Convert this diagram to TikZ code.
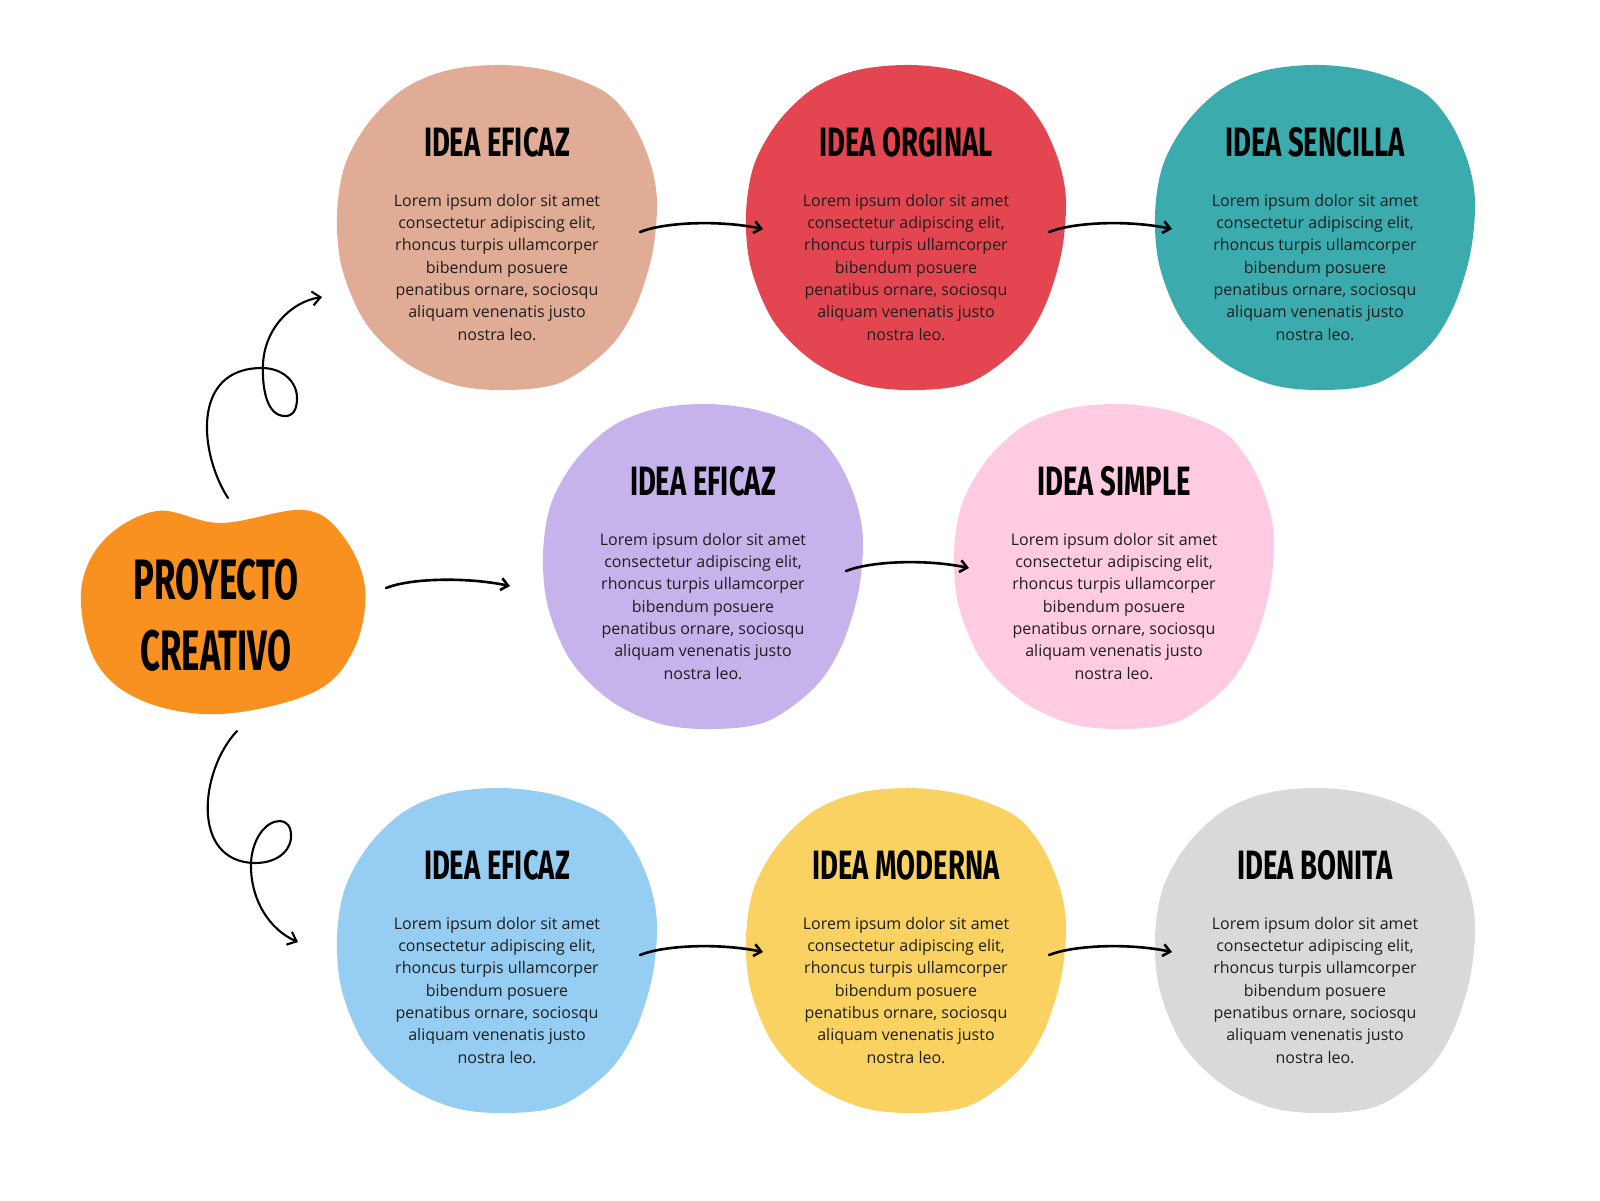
\documentclass[tikz,border=0pt]{standalone}
\usepackage{fontspec}
\setmainfont{Open Sans}
\newfontfamily\titlefont[FakeStretch=0.67]{Fira Sans}
\newfontfamily\maintitlefont[FakeStretch=0.61]{Fira Sans}
\usetikzlibrary{arrows.meta,calc}
\definecolor{csalmon}{HTML}{E0AC96}
\definecolor{cred}{HTML}{E34650}
\definecolor{cteal}{HTML}{3BABAE}
\definecolor{cpurple}{HTML}{C6B3EC}
\definecolor{cpink}{HTML}{FECBE3}
\definecolor{cblue}{HTML}{96CDF2}
\definecolor{cyellow}{HTML}{F9D262}
\definecolor{cgray}{HTML}{D9D9D9}
\definecolor{corange}{HTML}{F8911F}
\definecolor{bodytext}{HTML}{1E1E1E}
\tikzset{
  blobtitle/.style={font=\titlefont\bfseries\fontsize{41}{41}\selectfont, anchor=base, inner sep=0pt, text=black},
  maintitle/.style={font=\maintitlefont\bfseries\fontsize{57}{71}\selectfont, align=center, inner sep=0pt, text=black},
  blobbody/.style={font=\fontsize{16}{22.3}\selectfont, align=center, anchor=north, inner sep=0pt, text=bodytext},
  conn/.style={line width=2.6pt, line cap=round, -{Straight Barb[length=7pt,width=12pt]}},
  swirl/.style={line width=2.1pt, line cap=round, -{Straight Barb[length=8pt,width=14pt]}},
}
\newcommand{\blobshape}[2]{%
  \fill[#2, shift={(#1)}] plot[smooth cycle, tension=0.55] coordinates {
    (5,-162) (58,-155) (108,-135) (135,-105) (153,-65) (160,-25) (155,28)
    (138,81) (112,121) (65,155) (12,163) (-42,158) (-92,135) (-132,95)
    (-155,41) (-160,-12) (-152,-62) (-128,-105) (-92,-139) (-48,-157)};}
\newcommand{\lorem}{Lorem ipsum dolor sit amet\\consectetur adipiscing elit,\\rhoncus turpis ullamcorper\\bibendum posuere\\penatibus ornare, sociosqu\\aliquam venenatis justo\\nostra leo.}
\begin{document}
\begin{tikzpicture}[x=1pt,y=-1pt]
\useasboundingbox (0,0) rectangle (1600,1200);
\fill[white] (0,0) rectangle (1600,1200);
% centres
\coordinate (c1) at (497,227);
\coordinate (c2) at (906,227);
\coordinate (c3) at (1315,227);
\coordinate (c4) at (703,566);
\coordinate (c5) at (1114,566);
\coordinate (c6) at (497,950);
\coordinate (c7) at (906,950);
\coordinate (c8) at (1315,950);
% blobs
\blobshape{c1}{csalmon}
\blobshape{c2}{cred}
\blobshape{c3}{cteal}
\blobshape{c4}{cpurple}
\blobshape{c5}{cpink}
\blobshape{c6}{cblue}
\blobshape{c7}{cyellow}
\blobshape{c8}{cgray}
\fill[corange] plot[smooth cycle, tension=0.6] coordinates {
  (81,592) (104,540) (157,511) (221,523) (304,510) (343,536) (365,588)
  (354,649) (314,692) (221,714) (143,701) (96,662)};
% main node
\node[maintitle] (main) at (216,615) {PROYECTO\\CREATIVO};
% titles
\node[blobtitle] (t1) at ($(c1)+(0,-71)$) {IDEA EFICAZ};
\node[blobtitle] (t2) at ($(c2)+(0,-71)$) {IDEA ORGINAL};
\node[blobtitle] (t3) at ($(c3)+(0,-71)$) {IDEA SENCILLA};
\node[blobtitle] (t4) at ($(c4)+(0,-71)$) {IDEA EFICAZ};
\node[blobtitle] (t5) at ($(c5)+(0,-71)$) {IDEA SIMPLE};
\node[blobtitle] (t6) at ($(c6)+(0,-71)$) {IDEA EFICAZ};
\node[blobtitle] (t7) at ($(c7)+(0,-71)$) {IDEA MODERNA};
\node[blobtitle] (t8) at ($(c8)+(0,-71)$) {IDEA BONITA};
% bodies
\node[blobbody] (d1) at ($(c1)+(0,-33)$) {\lorem};
\node[blobbody] (d2) at ($(c2)+(0,-33)$) {\lorem};
\node[blobbody] (d3) at ($(c3)+(0,-33)$) {\lorem};
\node[blobbody] (d4) at ($(c4)+(0,-33)$) {\lorem};
\node[blobbody] (d5) at ($(c5)+(0,-33)$) {\lorem};
\node[blobbody] (d6) at ($(c6)+(0,-33)$) {\lorem};
\node[blobbody] (d7) at ($(c7)+(0,-33)$) {\lorem};
\node[blobbody] (d8) at ($(c8)+(0,-33)$) {\lorem};
% connector end points
\foreach \i in {1,2,4,6,7}{
  \coordinate (s\i) at ($(c\i)+(143,5)$);
  \coordinate (e\i) at ($(c\i)+(266,2)$);
  \draw[conn] (s\i) .. controls ($(s\i)+(25,-10)$) and ($(e\i)+(-43,-9)$) .. (e\i);
}
\coordinate (s0) at (386,588);
\coordinate (e0) at (510,586);
\draw[conn] (s0) .. controls ($(s0)+(25,-10)$) and ($(e0)+(-43,-9)$) .. (e0);
% upper swirl
\coordinate (us) at (228,498);
\coordinate (ue) at (322,297);
\draw[swirl] (us) .. controls (200,455) and (190,368) .. (262,368)
  .. controls (283,368) and (297,382) .. (297,398)
  .. controls (297,410) and (293,416) .. (285,416)
  .. controls (268,416) and (262,392) .. (263,365)
  .. controls (264,330) and (290,302) .. (ue);
% lower swirl
\coordinate (ls) at (237,731);
\coordinate (le) at (298,942);
\draw[swirl] (ls) .. controls (200,770) and (190,862) .. (255,863)
  .. controls (280,863) and (292,848) .. (291,835)
  .. controls (291,826) and (286,821) .. (280,821)
  .. controls (265,821) and (252,840) .. (251,863)
  .. controls (250,900) and (270,930) .. (le);
\end{tikzpicture}
\end{document}
